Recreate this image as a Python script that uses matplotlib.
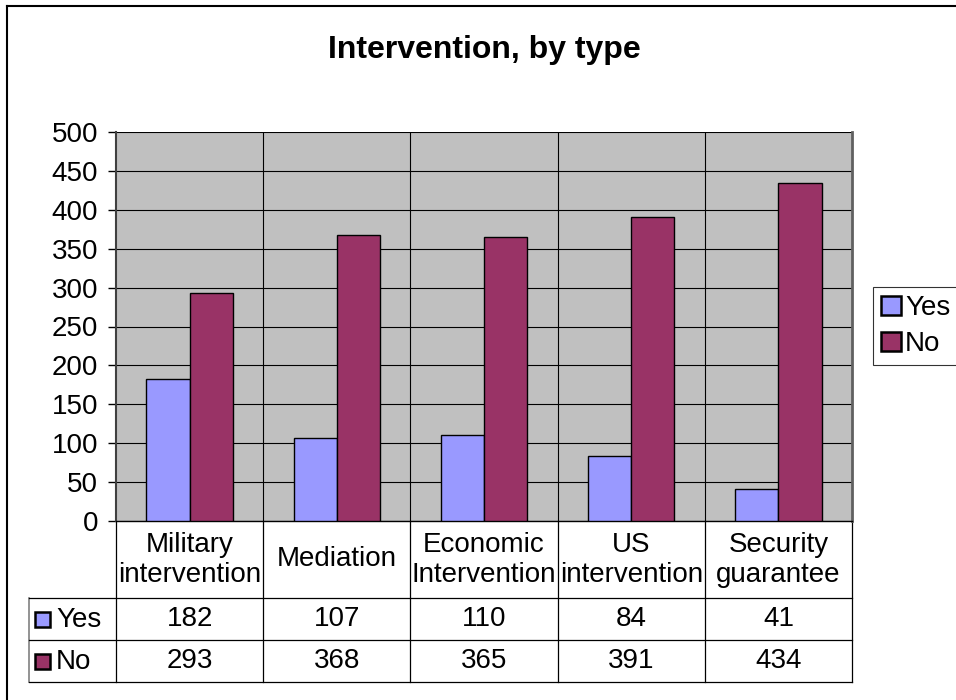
import matplotlib.pyplot as plt
import matplotlib.transforms as mtransforms
from matplotlib.patches import Patch, Rectangle
import numpy as np

plt.rcParams['font.family'] = ['Liberation Sans', 'DejaVu Sans']

categories = ["Military\nintervention", "Mediation", "Economic\nIntervention",
              "US\nintervention", "Security\nguarantee"]
yes_counts = [182, 107, 110, 84, 41]
no_counts = [293, 368, 365, 391, 434]
series_names = ["Yes", "No"]
series_colors = ["#9999FF", "#993366"]

FS = 20  # body text size

W, H = 956, 700
fig = plt.figure(figsize=(W / 100, H / 100), dpi=100)

# plot area in pixel terms
left, right, top, bottom = 116, 852, 132, 521
ax = fig.add_axes([left / W, 1 - bottom / H, (right - left) / W, (bottom - top) / H])
ax.set_facecolor("#C0C0C0")

n = len(categories)
x = np.arange(n) + 0.5
bw = 0.293
ax.bar(x - bw / 2, yes_counts, bw, color=series_colors[0], edgecolor="black", linewidth=1, zorder=3)
ax.bar(x + bw / 2, no_counts, bw, color=series_colors[1], edgecolor="black", linewidth=1, zorder=3)

ax.set_xlim(0, n)
ax.set_ylim(0, 500)
ax.set_yticks(np.arange(0, 501, 50))
ax.set_xticks([])
ax.tick_params(axis="y", labelsize=FS, length=6, width=1, pad=7, color="black")
ax.yaxis.grid(True, color="black", linewidth=0.8, zorder=1)
for b in range(1, n):
    ax.axvline(b, color="black", linewidth=0.8, zorder=1)
ax.spines["top"].set_visible(False)
ax.spines["left"].set_color("#404040")
ax.spines["left"].set_linewidth(1.5)
ax.spines["right"].set_color("#606060")
ax.spines["right"].set_linewidth(2)
ax.spines["bottom"].set_color("black")
ax.spines["bottom"].set_linewidth(1)

# data table under the plot
tr = mtransforms.blended_transform_factory(ax.transData, ax.transAxes)
ph = bottom - top
row_cat = -(598 - bottom) / ph
row_yes = -(640 - bottom) / ph
row_no = -(682 - bottom) / ph
lab_left = -(left - 29) / ((right - left) / n)

line_kw = dict(color="black", linewidth=0.9, transform=tr, clip_on=False)
for b in range(0, n + 1):
    ax.plot([b, b], [0, row_no], **line_kw)
ax.plot([lab_left, lab_left], [row_cat, row_no], color="#808080", linewidth=1.2, transform=tr, clip_on=False)
for yy in [row_cat, row_yes, row_no]:
    ax.plot([lab_left, n], [yy, yy], **line_kw)

for i, cat in enumerate(categories):
    ax.text(x[i], row_cat / 2, cat, transform=tr, ha="center", va="center",
            fontsize=FS, linespacing=1.2)
    ax.text(x[i], (row_cat + row_yes) / 2, str(yes_counts[i]), transform=tr,
            ha="center", va="center", fontsize=FS)
    ax.text(x[i], (row_yes + row_no) / 2, str(no_counts[i]), transform=tr,
            ha="center", va="center", fontsize=FS)

for (y0, y1), name, col in zip([(row_cat, row_yes), (row_yes, row_no)], series_names, series_colors):
    yc = (y0 + y1) / 2
    px_y = bottom - yc * ph
    fig.add_artist(Rectangle((35 / W, 1 - (px_y + 8) / H), 15 / W, 15 / H,
                             facecolor=col, edgecolor="black", linewidth=1.8,
                             transform=fig.transFigure))
    fig.text(56 / W, 1 - (px_y + 1) / H, name, ha="left", va="center", fontsize=FS)

# outer chart frame
fig.add_artist(plt.Line2D([7 / W, 7 / W], [0, 1 - 6 / H], color="black", linewidth=1.5))
fig.add_artist(plt.Line2D([7 / W, 1], [1 - 6 / H, 1 - 6 / H], color="black", linewidth=1.5))

fig.text((left + right) / 2 / W, 1 - 50 / H, "Intervention, by type",
         ha="center", va="center", fontsize=23, fontweight="bold")

handles = [Patch(facecolor=c, edgecolor="black", linewidth=1.8) for c in series_colors]
leg = fig.legend(handles, series_names, loc="upper left",
                 bbox_to_anchor=(873 / W, 1 - 287 / H), fontsize=FS,
                 frameon=True, fancybox=False, edgecolor="black",
                 handlelength=0.7, handleheight=0.7, handletextpad=0.15,
                 borderpad=0.3, labelspacing=0.35, borderaxespad=0)
leg.get_frame().set_linewidth(0.8)

fig.savefig("out.png", dpi=100)
